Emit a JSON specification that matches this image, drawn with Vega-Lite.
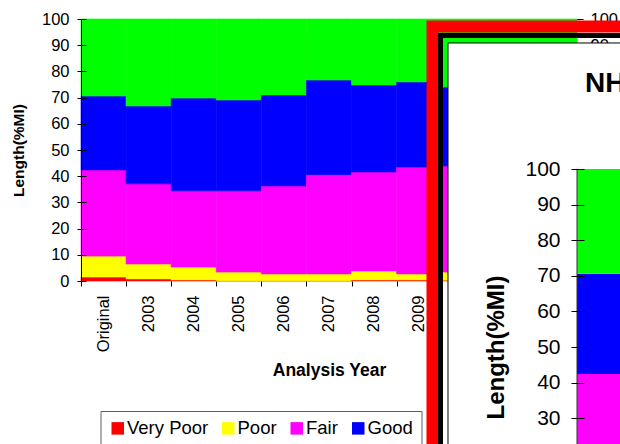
{
  "$schema": "https://vega.github.io/schema/vega-lite/v6.json",
  "width": 496,
  "height": 262,
  "autosize": {"type": "none"},
  "padding": {"left": 81, "top": 19, "right": 43, "bottom": 163},
  "background": "#ffffff",
  "config": {
    "font": "Liberation Sans",
    "view": {"stroke": null},
    "axis": {
      "labelFont": "Liberation Sans",
      "titleFont": "Liberation Sans",
      "labelColor": "#000000",
      "titleColor": "#000000",
      "tickColor": "#000000",
      "domainColor": "#000000",
      "grid": false,
      "labelFontSize": 16.5,
      "titleFontWeight": "bold"
    }
  },
  "datasets": {
    "classes": [
      {"cond": "Very Poor", "rank": 1},
      {"cond": "Poor", "rank": 2},
      {"cond": "Fair", "rank": 3},
      {"cond": "Good", "rank": 4},
      {"cond": "Excellent", "rank": 5}
    ],
    "condition": [
      {"year": "Original", "cond": "Very Poor", "pct": 1.5},
      {"year": "Original", "cond": "Poor", "pct": 8.0},
      {"year": "Original", "cond": "Fair", "pct": 32.9},
      {"year": "Original", "cond": "Good", "pct": 28.2},
      {"year": "Original", "cond": "Excellent", "pct": 29.4},
      {"year": "2003", "cond": "Very Poor", "pct": 0.8},
      {"year": "2003", "cond": "Poor", "pct": 5.7},
      {"year": "2003", "cond": "Fair", "pct": 30.6},
      {"year": "2003", "cond": "Good", "pct": 29.7},
      {"year": "2003", "cond": "Excellent", "pct": 33.2},
      {"year": "2004", "cond": "Very Poor", "pct": 0.4},
      {"year": "2004", "cond": "Poor", "pct": 4.9},
      {"year": "2004", "cond": "Fair", "pct": 29.1},
      {"year": "2004", "cond": "Good", "pct": 35.4},
      {"year": "2004", "cond": "Excellent", "pct": 30.2},
      {"year": "2005", "cond": "Very Poor", "pct": 0.1},
      {"year": "2005", "cond": "Poor", "pct": 3.3},
      {"year": "2005", "cond": "Fair", "pct": 31.0},
      {"year": "2005", "cond": "Good", "pct": 34.7},
      {"year": "2005", "cond": "Excellent", "pct": 30.9},
      {"year": "2006", "cond": "Very Poor", "pct": 0.1},
      {"year": "2006", "cond": "Poor", "pct": 2.6},
      {"year": "2006", "cond": "Fair", "pct": 33.6},
      {"year": "2006", "cond": "Good", "pct": 34.7},
      {"year": "2006", "cond": "Excellent", "pct": 29.0},
      {"year": "2007", "cond": "Very Poor", "pct": 0.1},
      {"year": "2007", "cond": "Poor", "pct": 2.6},
      {"year": "2007", "cond": "Fair", "pct": 37.9},
      {"year": "2007", "cond": "Good", "pct": 36.1},
      {"year": "2007", "cond": "Excellent", "pct": 23.3},
      {"year": "2008", "cond": "Very Poor", "pct": 0.4},
      {"year": "2008", "cond": "Poor", "pct": 3.4},
      {"year": "2008", "cond": "Fair", "pct": 37.8},
      {"year": "2008", "cond": "Good", "pct": 33.2},
      {"year": "2008", "cond": "Excellent", "pct": 25.2},
      {"year": "2009", "cond": "Very Poor", "pct": 0.4},
      {"year": "2009", "cond": "Poor", "pct": 2.3},
      {"year": "2009", "cond": "Fair", "pct": 40.8},
      {"year": "2009", "cond": "Good", "pct": 32.5},
      {"year": "2009", "cond": "Excellent", "pct": 24.0},
      {"year": "2010", "cond": "Very Poor", "pct": 0.3},
      {"year": "2010", "cond": "Poor", "pct": 3.1},
      {"year": "2010", "cond": "Fair", "pct": 40.5},
      {"year": "2010", "cond": "Good", "pct": 30.1},
      {"year": "2010", "cond": "Excellent", "pct": 26.0},
      {"year": "2011", "cond": "Very Poor", "pct": 0.3},
      {"year": "2011", "cond": "Poor", "pct": 3.0},
      {"year": "2011", "cond": "Fair", "pct": 41.0},
      {"year": "2011", "cond": "Good", "pct": 30.0},
      {"year": "2011", "cond": "Excellent", "pct": 25.7},
      {"year": "2012", "cond": "Very Poor", "pct": 0.3},
      {"year": "2012", "cond": "Poor", "pct": 2.8},
      {"year": "2012", "cond": "Fair", "pct": 41.5},
      {"year": "2012", "cond": "Good", "pct": 30.2},
      {"year": "2012", "cond": "Excellent", "pct": 25.2}
    ]
  },
  "resolve": {
    "scale": {"x": "independent", "y": "independent"},
    "axis": {"x": "independent", "y": "independent"}
  },
  "layer": [
    {
      "data": {"name": "condition"},
      "transform": [
        {"lookup": "cond", "from": {"data": {"name": "classes"}, "key": "cond", "fields": ["rank"]}},
        {"stack": "pct", "groupby": ["year"], "sort": [{"field": "rank", "order": "ascending"}], "as": ["lo", "hi"]}
      ],
      "mark": {"type": "bar", "strokeWidth": 0.6},
      "encoding": {
        "x": {
          "field": "year",
          "type": "nominal",
          "scale": {
            "domain": ["Original", "2003", "2004", "2005", "2006", "2007", "2008", "2009", "2010", "2011", "2012"],
            "paddingInner": 0,
            "paddingOuter": 0
          },
          "axis": {
            "orient": "bottom",
            "ticks": false,
            "tickSize": 0,
            "domain": false,
            "labelAngle": -90,
            "labelPadding": 14,
            "title": "Analysis Year",
            "titleFontSize": 17.5,
            "titlePadding": 10
          }
        },
        "y": {
          "field": "lo",
          "type": "quantitative",
          "scale": {"domain": [0, 100], "nice": false},
          "axis": {
            "orient": "left",
            "values": [0, 10, 20, 30, 40, 50, 60, 70, 80, 90, 100],
            "tickSize": 4,
            "labelPadding": 8,
            "domain": true,
            "title": "Length(%MI)",
            "titleFontSize": 15.5,
            "titlePadding": 15,
            "zindex": 1
          }
        },
        "y2": {"field": "hi"},
        "color": {
          "field": "cond",
          "type": "nominal",
          "scale": {
            "domain": ["Very Poor", "Poor", "Fair", "Good", "Excellent"],
            "range": ["#ff0000", "#ffff00", "#ff00ff", "#0000ff", "#00ff00"]
          },
          "legend": {
            "values": ["Very Poor", "Poor", "Fair", "Good"],
            "orient": "none",
            "legendX": 19.5,
            "legendY": 392,
            "direction": "horizontal",
            "title": null,
            "strokeColor": "#606060",
            "padding": 8,
            "symbolType": "square",
            "symbolSize": 156,
            "symbolStrokeWidth": 0,
            "labelFont": "Liberation Sans",
            "labelFontSize": 18.5,
            "labelColor": "#000000",
            "labelOffset": 0,
            "columnPadding": 10.5
          }
        },
        "stroke": {
          "field": "cond",
          "type": "nominal",
          "scale": {
            "domain": ["Very Poor", "Poor", "Fair", "Good", "Excellent"],
            "range": ["#ff0000", "#ffff00", "#ff00ff", "#0000ff", "#00ff00"]
          },
          "legend": null
        }
      }
    },
    {
      "data": {"values": [{}]},
      "mark": {"type": "rect", "filled": false, "color": "#ff0000", "strokeWidth": 12},
      "encoding": {
        "x": {
          "datum": 7.795,
          "type": "quantitative",
          "scale": {"domain": [0, 11], "nice": false, "zero": false},
          "axis": {
            "orient": "bottom",
            "values": [0, 1, 2, 3, 4, 5, 6, 7, 8, 9, 10, 11],
            "labels": false,
            "domain": false,
            "tickSize": 5,
            "title": null
          }
        },
        "x2": {"datum": 14},
        "y": {
          "datum": 97.14,
          "type": "quantitative",
          "scale": {"domain": [0, 100], "nice": false},
          "axis": {
            "orient": "left",
            "values": [0, 10, 20, 30, 40, 50, 60, 70, 80, 90, 100],
            "labels": false,
            "domain": false,
            "tickSize": 5,
            "offset": -5,
            "title": null,
            "zindex": 1
          }
        },
        "y2": {"datum": -80}
      }
    },
    {
      "data": {"values": [{}]},
      "mark": {"type": "rect", "filled": false, "color": "#000000", "strokeWidth": 5},
      "encoding": {
        "x": {
          "datum": 7.973,
          "type": "quantitative",
          "scale": {"domain": [0, 11], "nice": false, "zero": false},
          "axis": null
        },
        "x2": {"datum": 14},
        "y": {
          "datum": 93.7,
          "type": "quantitative",
          "scale": {"domain": [0, 100], "nice": false},
          "axis": {
            "orient": "right",
            "values": [0, 10, 20, 30, 40, 50, 60, 70, 80, 90, 100],
            "offset": -6,
            "tickSize": 12,
            "labelPadding": 7,
            "domain": false,
            "title": null
          }
        },
        "y2": {"datum": -80}
      }
    },
    {
      "data": {"values": [{}]},
      "mark": {"type": "rect", "fill": "#ffffff", "stroke": "#000000", "strokeWidth": 1},
      "encoding": {
        "x": {"datum": 8.139, "type": "quantitative", "scale": {"domain": [0, 11], "nice": false, "zero": false}, "axis": null},
        "x2": {"datum": 14},
        "y": {"datum": 135.4, "type": "quantitative", "scale": {"domain": [0, 100], "range": [506, 150], "nice": false}, "axis": null},
        "y2": {"datum": -30}
      }
    },
    {
      "data": {"name": "condition"},
      "transform": [
        {"filter": {"field": "year", "equal": "Original"}},
        {"lookup": "cond", "from": {"data": {"name": "classes"}, "key": "cond", "fields": ["rank"]}},
        {"stack": "pct", "groupby": ["year"], "sort": [{"field": "rank", "order": "ascending"}], "as": ["lo", "hi"]}
      ],
      "mark": {"type": "rect"},
      "encoding": {
        "x": {"datum": 11, "type": "quantitative", "scale": {"domain": [0, 11], "nice": false, "zero": false}, "axis": null},
        "x2": {"datum": 14},
        "y": {
          "field": "lo",
          "type": "quantitative",
          "scale": {"domain": [0, 100], "range": [506, 150], "nice": false},
          "axis": {
            "orient": "left",
            "values": [0, 10, 20, 30, 40, 50, 60, 70, 80, 90, 100],
            "offset": -503,
            "tickSize": 13,
            "labelPadding": 11,
            "labelFontSize": 21,
            "domain": false,
            "title": "Length(%MI)",
            "titleFontSize": 24,
            "titlePadding": 16,
            "zindex": 2
          }
        },
        "y2": {"field": "hi"},
        "color": {"field": "cond", "type": "nominal", "legend": null}
      }
    },
    {
      "data": {"values": [{}]},
      "mark": {"type": "rule", "color": "#333333", "strokeWidth": 1},
      "encoding": {
        "x": {"datum": 11, "type": "quantitative", "scale": {"domain": [0, 11], "nice": false, "zero": false}, "axis": null},
        "y": {"datum": 0, "type": "quantitative", "scale": {"domain": [0, 100], "range": [506, 150], "nice": false}, "axis": null},
        "y2": {"datum": 100}
      }
    },
    {
      "data": {"values": [{}]},
      "mark": {"type": "text", "text": "NH", "font": "Liberation Sans", "fontSize": 28, "fontWeight": "bold", "align": "left", "baseline": "alphabetic", "color": "#000000"},
      "encoding": {
        "x": {"datum": 11.18, "type": "quantitative", "scale": {"domain": [0, 11], "nice": false, "zero": false}, "axis": null},
        "y": {"datum": 121.7, "type": "quantitative", "scale": {"domain": [0, 100], "range": [506, 150], "nice": false}, "axis": null}
      }
    }
  ]
}
